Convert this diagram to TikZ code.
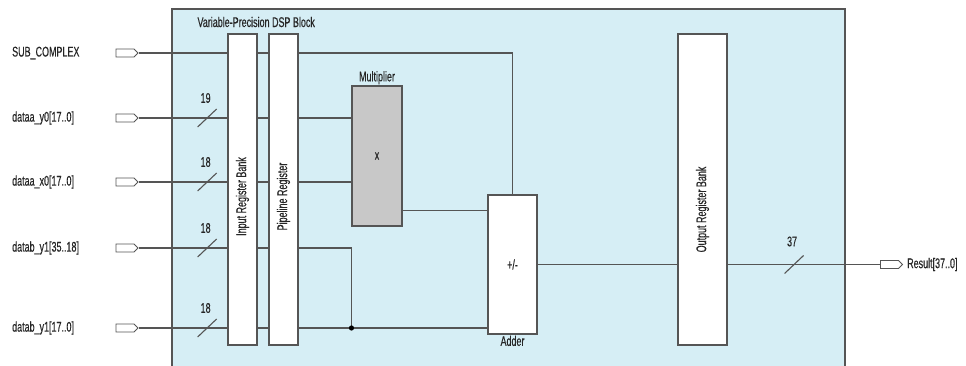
\documentclass[tikz,border=0pt]{standalone}
\usepackage{fontspec}
\setmainfont{Liberation Sans}[FakeStretch=0.64, FakeBold=0.4]
\usepackage{tikz}
\usetikzlibrary{positioning,shapes.symbols,calc}
\definecolor{dspblue}{HTML}{D6EEF5}
\definecolor{wiregray}{HTML}{555555}
\definecolor{multgray}{HTML}{C8C8C8}
\pgfdeclarelayer{back}
\pgfdeclarelayer{wires}
\pgfsetlayers{back,wires,main}
\tikzset{
  port/.style={draw=wiregray, fill=white, line width=0.9pt, signal, signal to=east,
    minimum width=22pt, minimum height=8pt, inner sep=0pt},
  regbox/.style={draw=wiregray, fill=white, line width=1.1pt, inner sep=0pt,
    minimum width=29pt, minimum height=311pt},
  wire/.style={draw=wiregray, line width=1.1pt},
}

\begin{document}
\begin{tikzpicture}[x=1pt, y=-1pt, font=\fontsize{14}{16}\selectfont, text=black!85]
  \useasboundingbox (0,0) rectangle (966,366);
  % input ports
  \foreach \nm/\yy/\txt in {psub/53/SUB\_COMPLEX, py0/118/dataa\_y0[17..0],
      px0/182/dataa\_x0[17..0], pb1/248/datab\_y1[35..18], pb0/328/datab\_y1[17..0]} {
    \node[port] (\nm) at (125,\yy) {};
    \node[anchor=west, inner sep=0pt] at (12,\yy) {\txt};
  }
  % registers and arithmetic
  \node[regbox] (inreg) at (242.5,189.5) {};
  \node[rotate=90] at ([yshift=-7pt]inreg.center) {Input Register Bank};
  \node[regbox] (pipe) at (283.5,189.5) {};
  \node[rotate=90] at ([yshift=-7pt]pipe.center) {Pipeline Register};
  \node[regbox, minimum width=49pt] (outreg) at (702.5,189.5) {};
  \node[rotate=90] at ([yshift=-20pt]outreg.center) {Output Register Bank};
  \node[draw=wiregray, fill=multgray, line width=1.1pt, minimum width=50pt, minimum height=140pt,
    label={[inner sep=1pt]above:Multiplier}] (mult) at (377,156) {x};
  \node[draw=wiregray, fill=white, line width=1.1pt, minimum width=49pt, minimum height=139pt,
    label={[inner sep=1pt]below:Adder}] (adder) at (512.5,264.5) {+/-};
  \node[port] (pres) at (889.5,264.5) {};
  \node[anchor=west, inner sep=0pt] at (907,264.5) {Result[37..0]};

  \begin{pgfonlayer}{back}
    \fill[dspblue] (172,9) rectangle (845,372);
    \draw[wiregray, line width=1.1pt] (172,372) -- (172,9) -- (845,9) -- (845,372);
    \node[anchor=west] at (194,22) {Variable-Precision DSP Block};
  \end{pgfonlayer}

  \begin{pgfonlayer}{wires}
    \coordinate (jn) at (pb0.east -| mult.west);
    \coordinate (mout) at ([yshift=16pt]mult.south east);
    \draw[wire] (psub.east) -| (adder.north);
    \draw[wire] (py0.east) -- (py0.east -| mult.west);
    \draw[wire] (px0.east) -- (px0.east -| mult.west);
    \draw[wire] (pb1.east) -| (jn);
    \draw[wire] (pb0.east) -- (pb0.east -| adder.west);
    \draw[wire] (mout) -- (mout -| adder.west);
    \draw[wire] (adder.east) -- (adder.east -| outreg.west);
    \draw[wire] (outreg.east |- adder.east) -- (pres.west);
    \fill[black] (jn) circle (2.6pt);
    % bus widths
    \foreach \nm/\bits in {py0/19, px0/18, pb1/18, pb0/18} {
      \path (\nm.east) ++(68.5,0) coordinate (bm);
      \draw[wire] ($(bm)+(-9.5,9)$) -- ++(19,-18);
      \node at ($(bm)+(-1.5,-20)$) {\bits};
    }
    \path (outreg.east |- adder.east) ++(66.5,0) coordinate (bm);
    \draw[wire] ($(bm)+(-9.5,9)$) -- ++(19,-18);
    \node at ($(bm)+(-2,-23)$) {37};
  \end{pgfonlayer}
\end{tikzpicture}
\end{document}
